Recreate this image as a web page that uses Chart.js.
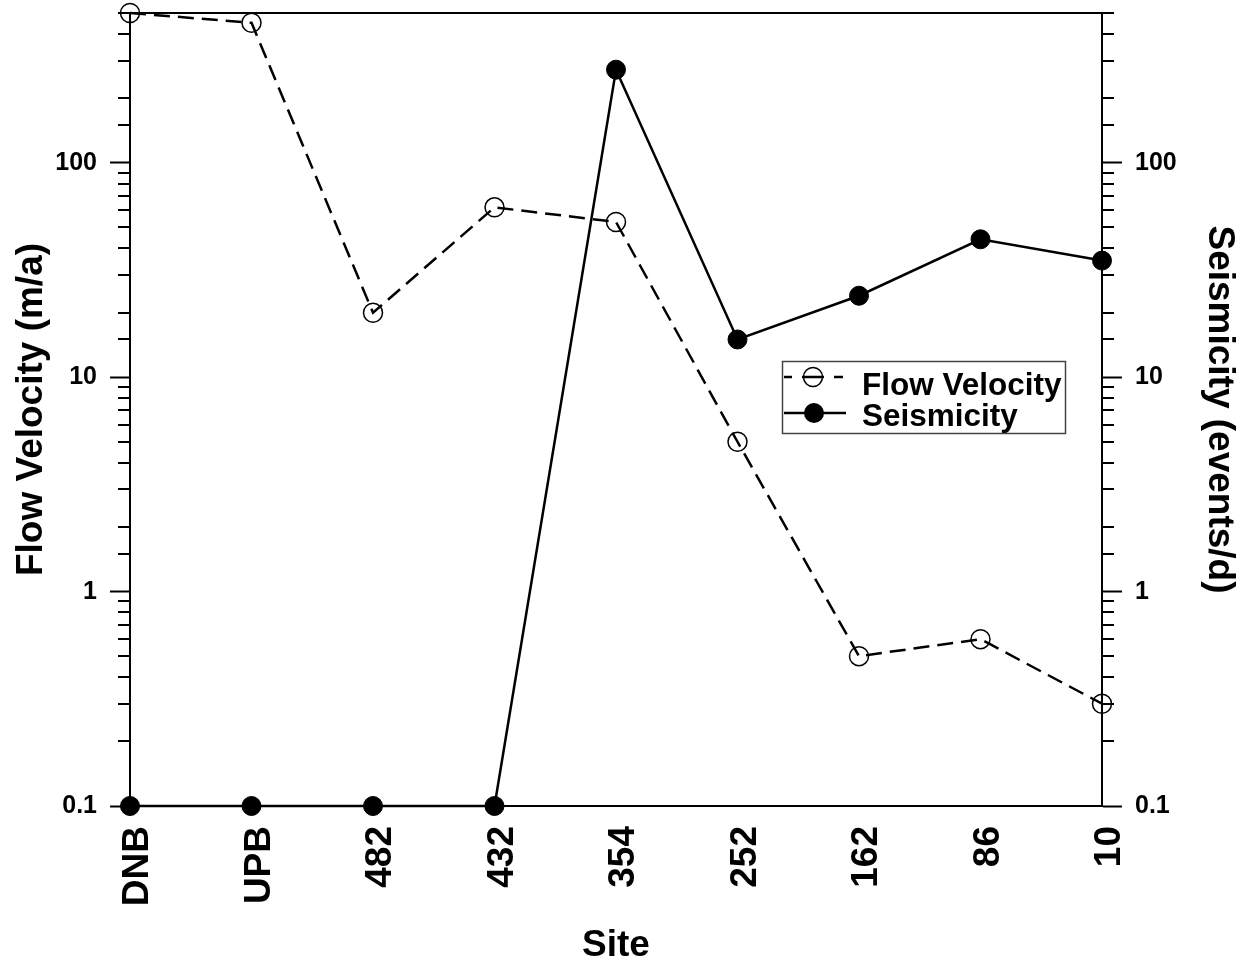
<!DOCTYPE html>
<html>
<head>
<meta charset="utf-8">
<script src="https://cdn.jsdelivr.net/npm/chart.js@4/dist/chart.umd.min.js"></script>
<style>
  body { margin: 0; background: #fff; }
  #wrap { width: 1259px; height: 972px; }
</style>
</head>
<body>
<div id="wrap"><canvas id="chart" width="1259" height="972"></canvas></div>
<script>
// sites along the x axis
const sites = ['DNB', 'UPB', '482', '432', '354', '252', '162', '86', '10'];
// flow velocity, m/a (left axis)
const flowVelocity = [500, 450, 20, 62, 53, 5, 0.5, 0.6, 0.3];
// seismicity, events/d (right axis)
const seismicity = [0.1, 0.1, 0.1, 0.1, 272, 15, 24, 44, 35];
// labelled ticks on both log axes
const tickLabels = [0.1, 1, 10, 100];

const FONT = 'Liberation Sans, Arial, Helvetica, sans-serif';

function isLabelled(v) {
    return tickLabels.some(t => Math.abs(t - v) < 1e-9);
}

// top border, minor ticks and the boxed legend
const framePlugin = {
    id: 'frame',
    afterDraw(chart) {
        const ctx = chart.ctx;
        const a = chart.chartArea;
        ctx.save();
        ctx.strokeStyle = '#000';
        ctx.lineWidth = 2;
        ctx.beginPath();
        ctx.moveTo(a.left, a.top);
        ctx.lineTo(a.right, a.top);
        ctx.stroke();

        ['y', 'y1'].forEach(id => {
            const s = chart.scales[id];
            const x0 = id === 'y' ? a.left : a.right;
            const dir = id === 'y' ? -1 : 1;
            s.ticks.forEach(t => {
                if (isLabelled(t.value)) return;
                const py = Math.round(s.getPixelForValue(t.value));
                ctx.beginPath();
                ctx.moveTo(x0, py);
                ctx.lineTo(x0 + dir * 12, py);
                ctx.stroke();
            });
        });

        // legend
        const lx = a.left + 652, ly = a.top + 348;
        ctx.lineWidth = 1.5;
        ctx.strokeStyle = '#444';
        ctx.strokeRect(lx + 0.5, ly + 0.5, 283, 72);

        const ds = chart.data.datasets;
        ctx.strokeStyle = '#000';
        ctx.fillStyle = '#000';
        // row 1: dashed with open circle
        const r1 = ly + 16;
        ctx.lineWidth = 2.5;
        [[lx + 2, lx + 10], [lx + 20, lx + 42], [lx + 52, lx + 61]].forEach(seg => {
            ctx.beginPath();
            ctx.moveTo(seg[0], r1);
            ctx.lineTo(seg[1], r1);
            ctx.stroke();
        });
        ctx.lineWidth = 1.5;
        ctx.beginPath();
        ctx.arc(lx + 31, r1, 9.5, 0, Math.PI * 2);
        ctx.stroke();
        // row 2: solid with filled circle
        const r2 = ly + 52;
        ctx.lineWidth = 2.5;
        ctx.beginPath();
        ctx.moveTo(lx + 2, r2);
        ctx.lineTo(lx + 64, r2);
        ctx.stroke();
        ctx.beginPath();
        ctx.arc(lx + 32, r2, 10, 0, Math.PI * 2);
        ctx.fill();

        ctx.font = 'bold 31.5px ' + FONT;
        ctx.textBaseline = 'alphabetic';
        ctx.textAlign = 'left';
        ctx.fillText(ds[0].label, lx + 80, ly + 34);
        ctx.fillText(ds[1].label, lx + 80, ly + 65);
        ctx.restore();
    }
};

function logAxis(position, title, titlePad, width) {
    return {
        type: 'logarithmic',
        position: position,
        min: 0.1,
        max: 500,
        afterFit(scale) {
            scale.width = width;
            scale.paddingTop = 0;
            scale.paddingBottom = 0;
        },
        border: { display: true, color: '#000', width: 2 },
        grid: {
            drawOnChartArea: false,
            drawTicks: true,
            tickLength: 20,
            tickWidth: 2,
            tickColor: c => (c.tick && isLabelled(c.tick.value)) ? '#000' : 'rgba(0,0,0,0)'
        },
        ticks: {
            autoSkip: false,
            padding: 13,
            color: '#000',
            font: { family: FONT, size: 25, weight: 'bold' },
            callback: v => isLabelled(v) ? String(v) : ''
        },
        title: {
            display: true,
            text: title,
            color: '#000',
            font: { family: FONT, size: 37, weight: 'bold' },
            padding: { top: titlePad, bottom: 0 }
        }
    };
}

const ctx = document.getElementById('chart').getContext('2d');
const chart = new Chart(ctx, {
    type: 'line',
    data: {
        labels: sites,
        datasets: [{
            label: 'Flow Velocity',
            data: flowVelocity,
            yAxisID: 'y',
            borderColor: '#000',
            borderWidth: 2.5,
            borderDash: [16, 8],
            pointRadius: 9.5,
            pointBorderWidth: 1.5,
            pointBorderColor: '#000',
            pointBackgroundColor: 'rgba(0,0,0,0)',
            tension: 0,
            clip: false
        }, {
            label: 'Seismicity',
            data: seismicity,
            yAxisID: 'y1',
            borderColor: '#000',
            borderWidth: 2.5,
            pointRadius: 9.5,
            pointBorderWidth: 1,
            pointBorderColor: '#000',
            pointBackgroundColor: '#000',
            tension: 0,
            clip: false
        }]
    },
    options: {
        responsive: false,
        animation: false,
        layout: { padding: { top: 13, left: 0, right: 0, bottom: 0 } },
        plugins: {
            legend: { display: false },
            tooltip: { enabled: false }
        },
        scales: {
            x: {
                type: 'category',
                offset: false,
                afterFit(scale) { scale.height = 166; },
                border: { display: true, color: '#000', width: 2 },
                grid: { display: false },
                ticks: {
                    autoSkip: false,
                    maxRotation: 90,
                    minRotation: 90,
                    padding: 12,
                    labelOffset: 8,
                    color: '#000',
                    font: { family: FONT, size: 37, weight: 'bold' }
                },
                title: {
                    display: true,
                    text: 'Site',
                    color: '#000',
                    font: { family: FONT, size: 37, weight: 'bold' },
                    padding: { top: 0, bottom: 4 }
                }
            },
            y: logAxis('left', 'Flow Velocity (m/a)', 10, 130),
            y1: logAxis('right', 'Seismicity (events/d)', 18, 157)
        }
    },
    plugins: [framePlugin]
});
</script>
</body>
</html>
